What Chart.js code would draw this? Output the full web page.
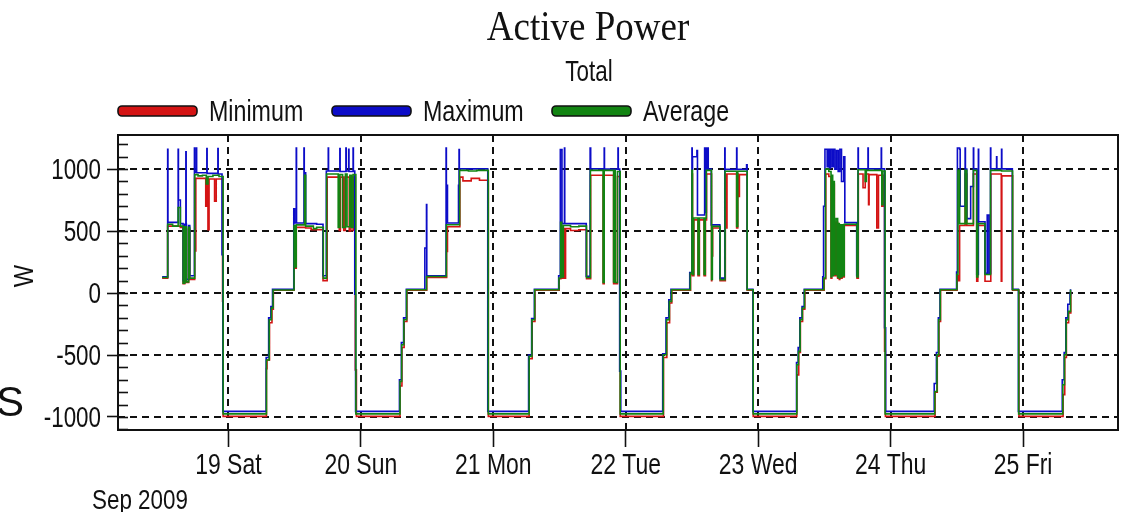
<!DOCTYPE html>
<html>
<head>
<meta charset="utf-8">
<script src="https://cdn.jsdelivr.net/npm/chart.js@4.4.1/dist/chart.umd.min.js"></script>
<style>
  body { margin: 0; background: #fff; }
  canvas { display: block; }
</style>
</head>
<body>
<canvas id="power" width="1123" height="512"></canvas>
<script>
// x values are hours since 18 Sep 2009 00:00, y values are watts
const dayTicks = [24, 48, 72, 96, 120, 144, 168];
const dayLabels = ['19 Sat', '20 Sun', '21 Mon', '22 Tue', '23 Wed', '24 Thu', '25 Fri'];
const wattTicks = [-1000, -500, 0, 500, 1000];

const avgPts = [
    [12.0,125],[13.0,555],[13.9,540],[14.9,690],[15.3,540],[15.8,80],[16.1,535],[16.4,90],[16.8,530],[17.0,120],[17.9,955],[18.5,945],[19.3,950],[20.0,880],[20.3,940],[21.2,950],[22.3,940],[23.05,-975],
    [30.9,-540],[31.4,-215],[31.8,-120],[32.1,25],
    [35.9,545],[36.1,210],[36.3,550],[37.8,950],[38.0,540],[39.4,520],[40.0,530],[41.2,120],[41.8,960],[43.9,530],[44.2,955],[44.7,530],[45.2,960],[45.5,535],[46.0,950],[46.3,530],[46.6,955],[47.1,-975],
    [55.1,-713],[55.4,-417],[55.8,-215],[56.3,27],
    [59.9,134],[63.5,551],[65.9,990],[67.5,985],[69.0,990],[71.1,-975],
    [78.5,-511],[79.0,-215],[79.5,27],
    [83.9,121],[84.2,570],[84.4,130],[84.7,545],[86.0,535],[87.5,540],[88.9,125],[89.6,990],[91.9,85],[92.1,990],[93.8,90],[94.0,990],[94.1,85],[94.5,980],[95.0,-975],
    [102.8,-498],[103.4,-215],[103.9,-67],[104.3,27],
    [107.7,160],[108.0,990],[108.1,150],[108.3,605],[109.1,150],[109.3,605],[110.2,150],[110.4,605],[110.6,990],[111.55,110],[111.7,538],[113.1,108],[114.0,982],[116.1,538],[116.3,982],[118.0,27],[119.1,-975],
    [127.0,-578],[127.3,-470],[127.6,-215],[128.0,-121],[128.4,27],
    [131.9,121],[132.2,1000],[132.8,980],[133.2,130],[133.3,950],[133.5,140],[133.6,900],[133.8,150],[134.1,600],[134.4,130],[134.5,560],[134.7,120],[134.8,550],[135.0,130],[135.2,550],[135.4,140],[135.6,555],[137.9,130],[138.1,995],[139.4,900],[139.6,990],[142.4,713],[142.6,985],[143.0,-975],
    [152.0,-794],[152.4,-498],[152.7,-215],[153.0,27],
    [156.0,150],[156.2,990],[156.5,560],[157.5,990],[157.8,560],[159.0,990],[159.6,130],[159.8,560],[161.1,150],[162.1,990],[164.1,985],[166.1,27],[167.2,-975],
    [175.2,-740],[175.5,-498],[175.8,-215],[176.2,-148],[176.6,27],
];

const maxPts = [
    [12.0,130],[13.0,1160],[13.05,570],[14.9,1160],[14.95,750],[15.3,560],[15.8,100],[16.1,555],[16.3,1140],[16.35,555],[16.4,110],[16.8,545],[17.0,140],[17.85,1170],[17.9,975],[18.2,1170],[18.25,970],[20.1,1165],[20.15,965],[22.1,1165],[22.15,960],[22.85,310],[23.0,-955],
    [30.85,-520],[31.3,-200],[31.7,-110],[32.0,30],
    [35.85,680],[36.0,565],[36.3,1170],[36.35,565],[37.7,1170],[37.75,970],[38.0,560],[40.0,555],[41.15,140],[41.75,985],[42.1,1170],[42.15,985],[44.2,1165],[44.25,980],[45.3,1170],[45.35,985],[45.8,1160],[45.85,980],[46.6,1170],[46.65,985],[46.9,-10],[47.05,-955],
    [55.0,-700],[55.35,-400],[55.75,-200],[56.25,30],
    [59.6,363],[59.9,713],[59.95,140],[63.45,1170],[63.5,870],[63.7,565],[65.7,870],[65.8,1157],[65.85,1002],[71.0,-955],
    [78.4,-500],[78.95,-205],[79.45,30],
    [83.85,140],[84.15,1157],[84.45,560],[84.9,1170],[84.95,560],[88.85,135],[89.55,1170],[89.65,1002],[92.1,1170],[92.15,1000],[94.6,1170],[94.65,1000],[94.9,-630],[95.1,-955],
    [102.7,-490],[103.3,-200],[103.8,-55],[104.2,30],
    [107.6,165],[108.0,1170],[108.05,1000],[108.1,1100],[108.9,1150],[109.0,630],[110.3,1170],[110.35,650],[110.6,1170],[110.65,1000],[110.9,1170],[110.95,1000],[111.5,550],[113.05,120],[113.95,1170],[114.0,998],[116.1,1170],[116.15,998],[117.9,1035],[118.0,30],[119.05,-955],
    [126.95,-560],[127.25,-440],[127.55,-200],[127.95,-110],[128.35,30],
    [131.7,130],[131.85,700],[132.1,1160],[132.5,1020],[132.7,1160],[132.9,1010],[133.1,1160],[133.4,1020],[133.6,1160],[133.9,1000],[134.2,1150],[134.5,980],[134.8,1160],[135.1,900],[135.5,1100],[135.7,568],[137.85,140],[138.1,1170],[138.15,1002],[139.9,1170],[139.95,1002],[142.3,1170],[142.35,1002],[142.9,-280],[143.1,-955],
    [151.9,-730],[152.3,-480],[152.65,-200],[152.95,30],
    [155.95,170],[156.1,1170],[156.5,1160],[156.6,700],[157.5,1170],[157.55,1000],[157.8,600],[158.5,860],[159.0,1170],[159.05,1000],[159.6,150],[159.9,1160],[159.95,575],[161.1,160],[161.5,630],[161.8,160],[162.1,1170],[162.15,1002],[163.2,1100],[163.25,1002],[164.1,1160],[164.15,1002],[166.05,30],[167.15,-955],
    [175.1,-700],[175.45,-480],[175.75,-200],[176.1,-90],[176.5,-13],[176.6,30],
];

const minPts = [
    [12.0,120],[13.0,540],[15.3,530],[15.8,75],[16.1,520],[16.4,85],[16.8,515],[17.0,110],[17.9,925],[18.0,340],[18.1,925],[19.9,700],[20.1,925],[20.3,510],[20.5,920],[21.5,740],[21.8,920],[22.95,-65],[23.05,-995],
    [30.9,-610],[31.0,-540],[31.45,-240],[31.9,-130],[32.15,22],
    [35.9,530],[36.0,200],[36.3,530],[38.0,525],[39.0,510],[41.15,100],[41.9,935],[44.1,505],[44.3,935],[44.9,505],[45.2,935],[45.9,500],[46.2,935],[46.6,505],[46.8,930],[47.0,-620],[47.2,-995],
    [55.1,-750],[55.45,-440],[55.85,-230],[56.35,22],
    [59.95,125],[63.55,336],[63.7,535],[65.95,935],[66.5,905],[68.0,925],[69.5,910],[71.1,-995],
    [78.5,-530],[79.05,-230],[79.55,22],
    [83.95,115],[84.25,530],[84.4,120],[84.7,520],[84.9,120],[85.1,520],[86.0,505],[87.5,510],[88.9,115],[89.65,950],[91.9,75],[92.1,950],[93.8,75],[94.0,950],[94.1,75],[94.5,940],[95.0,-995],
    [102.85,-520],[103.45,-240],[103.95,-80],[104.35,22],
    [107.75,150],[108.05,960],[108.1,140],[108.35,590],[109.1,140],[109.35,590],[110.2,140],[110.45,590],[110.65,960],[111.55,100],[111.6,300],[111.75,525],[113.1,100],[114.05,960],[114.2,525],[114.35,960],[116.1,525],[116.3,960],[116.4,780],[116.6,955],[118.0,22],[119.1,-995],
    [127.0,-660],[127.35,-480],[127.65,-230],[128.05,-130],[128.45,22],
    [131.95,115],[132.25,960],[132.8,940],[133.2,120],[133.35,560],[133.6,880],[133.8,140],[134.1,570],[134.4,120],[134.5,545],[134.7,110],[134.8,540],[135.0,120],[135.2,540],[135.4,130],[135.6,545],[137.9,120],[138.15,960],[139.0,850],[139.4,960],[140.0,713],[140.1,955],[141.5,525],[141.8,950],[142.4,700],[142.6,950],[142.9,-470],[143.05,-995],
    [152.05,-800],[152.45,-510],[152.75,-230],[153.05,22],
    [156.05,140],[156.3,100],[156.5,545],[157.5,960],[157.8,545],[159.0,960],[159.6,95],[159.8,545],[161.1,95],[162.15,960],[164.05,95],[164.15,945],[166.1,22],[167.25,-995],
    [175.25,-820],[175.55,-520],[175.85,-240],[176.25,-160],[176.65,10],
];

const seriesNames = ['Minimum', 'Maximum', 'Average'];
const seriesColors = ['#d41414', '#0c0cc8', '#128412'];

const SANS = "'Liberation Sans', Arial, sans-serif";
const INK = '#111';

const toXY = (pts) => pts.map(([x, y]) => ({ x, y }));

// the screenshot's text is narrow and tall, so squeeze it horizontally
function narrowText(ctx, text, x, y, size, align, sx = 0.82, sy = 1.04, family = SANS) {
    ctx.save();
    ctx.font = size + 'px ' + family;
    ctx.fillStyle = INK;
    ctx.textAlign = align;
    ctx.textBaseline = 'alphabetic';
    ctx.translate(x, y);
    ctx.scale(sx, sy);
    ctx.fillText(text, 0, 0);
    ctx.restore();
}

const decorPlugin = {
    id: 'decor',
    beforeDatasetsDraw(chart) {
        const { ctx, chartArea: a, scales: { x, y } } = chart;
        ctx.save();
        ctx.strokeStyle = INK;
        ctx.lineWidth = 2;
        ctx.setLineDash([7, 5]);
        y.ticks.forEach(t => {
            const py = Math.round(y.getPixelForValue(t.value));
            ctx.beginPath(); ctx.moveTo(a.left, py); ctx.lineTo(a.right, py); ctx.stroke();
        });
        x.ticks.forEach(t => {
            const px = Math.round(x.getPixelForValue(t.value));
            ctx.beginPath(); ctx.moveTo(px, a.top); ctx.lineTo(px, a.bottom); ctx.stroke();
        });
        // minor ticks every 100 W on the inside of the left axis
        ctx.setLineDash([]);
        ctx.lineWidth = 1.6;
        for (let v = -1100; v <= 1200; v += 100) {
            const py = Math.round(y.getPixelForValue(v)) + 0.5;
            ctx.beginPath(); ctx.moveTo(a.left, py); ctx.lineTo(a.left + 10, py); ctx.stroke();
        }
        ctx.restore();
    },
    afterDraw(chart) {
        const { ctx, chartArea: a, scales: { x, y } } = chart;
        ctx.save();
        ctx.strokeStyle = INK;
        ctx.lineWidth = 2;
        ctx.strokeRect(a.left, a.top, a.right - a.left, a.bottom - a.top);

        // tick labels, placed by the scales
        x.ticks.forEach((t, i) => {
            narrowText(ctx, dayLabels[i], x.getPixelForValue(t.value), 474, 28, 'center');
        });
        y.ticks.forEach(t => {
            narrowText(ctx, String(t.value), 101, y.getPixelForValue(t.value) + 10, 28, 'right', 0.8);
        });

        narrowText(ctx, 'Active Power', 588, 40, 37, 'center', 1, 1.12, "'Liberation Serif', 'Times New Roman', serif");
        narrowText(ctx, 'Total', 589, 81, 28, 'center', 0.8);

        // legend
        const legendX = [118, 332, 552];
        seriesNames.forEach((name, i) => {
            const lx = legendX[i];
            ctx.beginPath();
            ctx.roundRect(lx, 106, 79, 10, 4);
            ctx.fillStyle = seriesColors[i];
            ctx.fill();
            ctx.lineWidth = 1.6;
            ctx.strokeStyle = INK;
            ctx.stroke();
            narrowText(ctx, name, lx + 91, 121, 28, 'left', 0.83);
        });

        narrowText(ctx, 'Sep 2009', 92, 509, 27, 'left', 0.83);

        ctx.save();
        ctx.translate(33, 276);
        ctx.rotate(-Math.PI / 2);
        narrowText(ctx, 'W', 0, 0, 28, 'center', 0.85, 1);
        ctx.restore();

        narrowText(ctx, 'S', -4, 416, 42, 'left', 1, 1);
        ctx.restore();
    }
};

const datasets = [minPts, maxPts, avgPts].map((pts, i) => ({
    label: seriesNames[i],
    data: toXY(pts),
    borderColor: seriesColors[i],
    backgroundColor: seriesColors[i],
    borderWidth: 1.6,
    pointRadius: 0,
    stepped: true,
    order: [2, 1, 0][i],
}));

new Chart(document.getElementById('power'), {
    type: 'line',
    data: { datasets },
    plugins: [decorPlugin],
    options: {
        responsive: false,
        animation: false,
        layout: { padding: { top: 135, right: 5, left: 0, bottom: 0 } },
        plugins: {
            legend: { display: false },
            title: { display: false },
            tooltip: { enabled: false },
        },
        scales: {
            x: {
                type: 'linear',
                min: 4,
                max: 185.2,
                afterFit: (s) => { s.height = 82; },
                afterBuildTicks: (s) => { s.ticks = dayTicks.map(value => ({ value })); },
                grid: { drawOnChartArea: false, drawTicks: true, tickLength: 17, tickColor: INK, tickWidth: 1.6 },
                border: { display: false },
                ticks: { display: false },
            },
            y: {
                min: -1105,
                max: 1275,
                afterFit: (s) => { s.width = 118; },
                afterBuildTicks: (s) => { s.ticks = wattTicks.map(value => ({ value })); },
                grid: { drawOnChartArea: false, drawTicks: true, tickLength: 11, tickColor: INK, tickWidth: 1.6 },
                border: { display: false },
                ticks: { display: false },
            },
        },
    },
});
</script>
</body>
</html>
